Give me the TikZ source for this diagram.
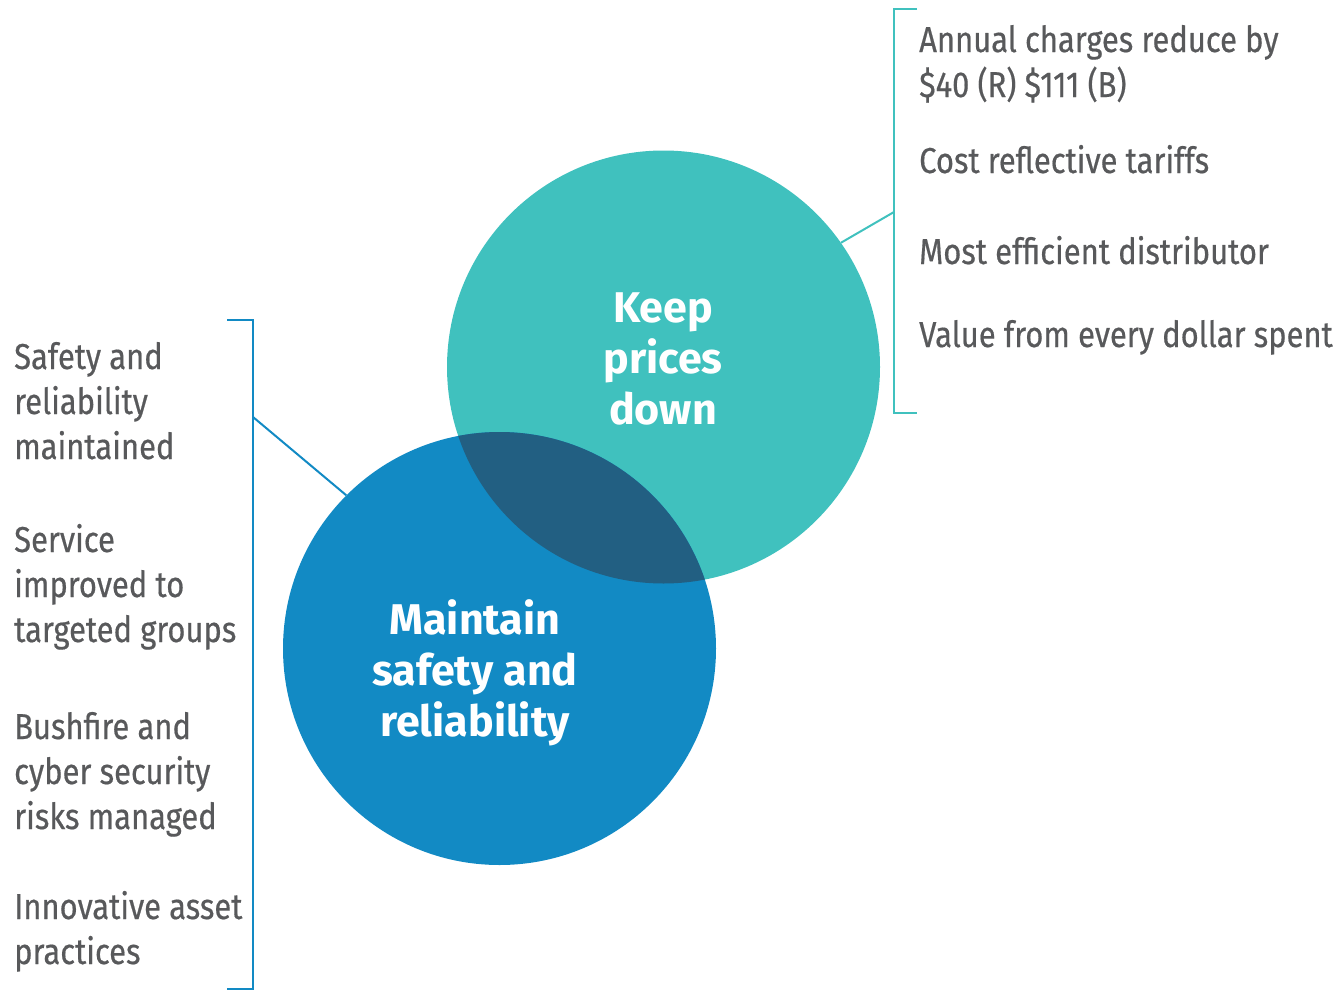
\documentclass[tikz,border=0pt]{standalone}
\usepackage{fontspec}
\usetikzlibrary{calc}
\setmainfont{Fira Sans}
\newfontfamily\listfont[FakeStretch=0.86,FakeBold=0.5]{Fira Sans}
\newfontfamily\headfont{Fira Sans}
\definecolor{tealc}{HTML}{40C1BE}
\definecolor{bluec}{HTML}{128AC4}
\definecolor{darkc}{HTML}{225F82}
\definecolor{textc}{HTML}{58595B}
\begin{document}
\begin{tikzpicture}[x=1pt,y=-1pt,
  bubble/.style={circle,minimum size=433pt,inner sep=0pt},
  headtext/.style={text=white,align=center,font=\headfont\bfseries\fontsize{43}{51}\selectfont},
  item/.style={anchor=base west,align=left,inner sep=0pt,text=textc,font=\listfont\fontsize{36}{45}\selectfont},
  bracket/.style={line width=2pt}]
\useasboundingbox (0,0) rectangle (1341,990);

% the two overlapping circles
\node[bubble,fill=tealc] (keep) at (663.5,367) {};
\node[bubble,fill=bluec] (safe) at (499.5,648.5) {};
\begin{scope}
  \clip (663.5,367) circle (216.5pt);
  \fill[darkc] (499.5,648.5) circle (216.5pt);
\end{scope}

\node[headtext] (keeplbl) at (663,359) {Keep\\prices\\down};
\node[headtext] (safelbl) at (475,673) {Maintain\\safety and\\reliability};

% right bracket with its items (base anchor = baseline of last line)
\coordinate (rt) at (894,9);
\coordinate (rb) at (894,413);
\coordinate (rj) at (894,212);
\draw[bracket,tealc] ($(rt)+(23,0)$) -- (rt) -- (rb) -- ++(23,0);
\draw[bracket,tealc] (keep.35) -- (rj);

\node[item] (r1) at (919,97) {Annual charges reduce by\\\$40 (R) \$111 (B)};
\node[item] (r2) at (919,173) {Cost reflective tariffs};
\node[item] (r3) at (919,264) {Most efficient distributor};
\node[item] (r4) at (919,347) {Value from every dollar spent};

% left bracket with its items
\coordinate (lt) at (253,320);
\coordinate (lb) at (253,989);
\coordinate (lj) at (253,417);
\draw[bracket,bluec] ($(lt)+(-26,0)$) -- (lt) -- (lb) -- ++(-26,0);
\draw[bracket,bluec] (safe.135) -- (lj);

\node[item] (l1) at (14,459) {Safety and\\reliability\\maintained};
\node[item] (l2) at (14,642) {Service\\improved to\\targeted groups};
\node[item] (l3) at (14,829) {Bushfire and\\cyber security\\risks managed};
\node[item] (l4) at (14,964) {Innovative asset\\practices};
\end{tikzpicture}
\end{document}
